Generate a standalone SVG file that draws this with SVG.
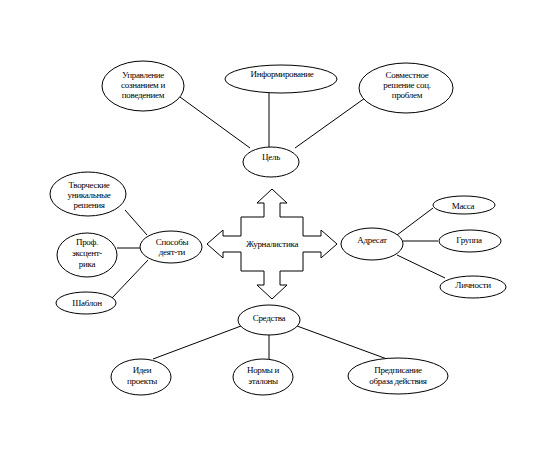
<svg xmlns="http://www.w3.org/2000/svg" width="551" height="460" viewBox="0 0 551 460">
<style>
ellipse{fill:#fff;stroke:#000;stroke-width:1}
line{stroke:#000;stroke-width:1}
text{font-family:"Liberation Serif","Times New Roman",serif;font-size:9px;fill:#000;text-anchor:middle;letter-spacing:-0.3px}
</style>
<rect width="551" height="460" fill="#fff"/>
<g id="connectors">
<line x1="180" y1="97" x2="250" y2="148"/>
<line x1="269" y1="93" x2="269" y2="147"/>
<line x1="365" y1="98" x2="295" y2="148"/>
<line x1="125" y1="210" x2="147" y2="235"/>
<line x1="117" y1="248" x2="140" y2="248"/>
<line x1="112" y1="298" x2="148" y2="260"/>
<line x1="397" y1="235" x2="433" y2="208"/>
<line x1="403" y1="241" x2="438" y2="241"/>
<line x1="397" y1="255" x2="445" y2="278"/>
<line x1="241" y1="326" x2="153" y2="359"/>
<line x1="269" y1="335" x2="269" y2="360"/>
<line x1="297" y1="326" x2="387" y2="359"/>
</g>
<g id="n-center">
<polygon points="272,189 287,203 280,203 280,217 303,217 303,236 321,236 321,230 337,244 321,258 321,252 303,252 303,271 280,271 280,285 287,285 272,299 257,285 264,285 264,271 241,271 241,252 223,252 223,258 207,244 223,230 223,236 241,236 241,217 264,217 264,203 257,203" fill="#fff" stroke="#000" stroke-width="1"/>
<text x="272" y="247">Журналистика</text>
</g>
<g id="n-upr"><ellipse cx="143" cy="86" rx="41" ry="25"/><text x="143" y="78">Управление</text><text x="143" y="88">сознанием и</text><text x="143" y="98">поведением</text></g>
<g id="n-inf"><ellipse cx="281" cy="79" rx="56" ry="14"/><text x="282" y="77">Информирование</text></g>
<g id="n-sovm"><ellipse cx="406" cy="88" rx="47" ry="25"/><text x="407" y="78">Совместное</text><text x="407" y="88">решение соц.</text><text x="407" y="98">проблем</text></g>
<g id="n-cel"><ellipse cx="271" cy="162" rx="28" ry="15"/><text x="271" y="160">Цель</text></g>
<g id="n-tvor"><ellipse cx="88" cy="194" rx="38" ry="22"/><text x="89" y="188">Творческие</text><text x="89" y="198">уникальные</text><text x="89" y="208">решения</text></g>
<g id="n-prof"><ellipse cx="87" cy="255" rx="30" ry="22"/><text x="87" y="245">Проф.</text><text x="87" y="256">эксцент-</text><text x="87" y="267">рика</text></g>
<g id="n-shab"><ellipse cx="86" cy="303" rx="30" ry="11"/><text x="87" y="306">Шаблон</text></g>
<g id="n-sposob"><ellipse cx="171" cy="247" rx="31" ry="16"/><text x="172" y="245">Способы</text><text x="172" y="255">деят-ти</text></g>
<g id="n-adr"><ellipse cx="372" cy="244" rx="31" ry="16"/><text x="372" y="243">Адресат</text></g>
<g id="n-massa"><ellipse cx="464" cy="205" rx="31" ry="9"/><text x="463" y="209">Масса</text></g>
<g id="n-gr"><ellipse cx="470" cy="241" rx="31" ry="11"/><text x="469" y="243">Группа</text></g>
<g id="n-lich"><ellipse cx="473" cy="287" rx="33" ry="11"/><text x="473" y="288">Личности</text></g>
<g id="n-sredst"><ellipse cx="269" cy="320" rx="31" ry="15"/><text x="269" y="321">Средства</text></g>
<g id="n-idei"><ellipse cx="141" cy="377" rx="30" ry="18"/><text x="142" y="373">Идеи</text><text x="142" y="384">проекты</text></g>
<g id="n-norm"><ellipse cx="263" cy="377" rx="30" ry="18"/><text x="263" y="373">Нормы и</text><text x="263" y="384">эталоны</text></g>
<g id="n-pred"><ellipse cx="398" cy="376" rx="50" ry="18"/><text x="398" y="373">Предписание</text><text x="398" y="384">образа действия</text></g>
</svg>
